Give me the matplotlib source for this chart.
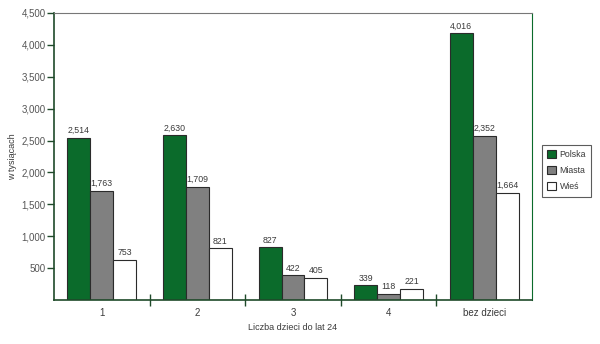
import numpy as np
import matplotlib
matplotlib.use("Agg")
import matplotlib.pyplot as plt

plt.rcParams['font.family'] = ['Liberation Sans', 'DejaVu Sans']

categories = ['1', '2', '3', '4', 'bez dzieci']
series = ['Polska', 'Miasta', 'Wieś']
# bar heights as drawn in the picture
polska = [2547, 2583, 828, 234, 4180]
miasta = [1714, 1776, 390, 94, 2578]
wies = [635, 812, 349, 172, 1682]
# labels printed above bars
polska_lbl = ['2,514', '2,630', '827', '339', '4,016']
miasta_lbl = ['1,763', '1,709', '422', '118', '2,352']
wies_lbl = ['753', '821', '405', '221', '1,664']
yticks = [500, 1000, 1500, 2000, 2500, 3000, 3500, 4000, 4500]

green = '#0b6b2b'
dark = '#1f4a2a'
txt = '#3a3a3a'

fig = plt.figure(figsize=(6, 3.44), dpi=100)
ax = fig.add_axes([54/600, 1-300/344, (532-54)/600, (300-13)/344])

x = np.arange(len(categories))
w = 0.24
colors = [green, '#808080', 'white']
vals = [polska, miasta, wies]
lbls = [polska_lbl, miasta_lbl, wies_lbl]
for i in range(3):
    bars = ax.bar(x + (i - 1) * w, vals[i], w, color=colors[i], edgecolor='#2b2b2b',
                  linewidth=0.8, label=series[i])
    for b, t in zip(bars, lbls[i]):
        ax.text(b.get_x() + b.get_width() / 2, b.get_height() + 40, t,
                ha='center', va='bottom', fontsize=6.3, color=txt)

ax.set_xlim(-0.5, 4.5)
ax.set_ylim(0, 4500)
ax.set_yticks(yticks)
ax.set_yticklabels([f'{v:,}' for v in yticks], fontsize=7, color='#555555')
ax.set_xticks(x)
ax.set_xticklabels(categories, fontsize=7, color=txt)
ax.tick_params(axis='x', length=0, pad=6)
ax.set_xticks(np.arange(0.5, 4.5, 1), minor=True)
ax.tick_params(axis='x', which='minor', length=8, direction='inout', color=dark, width=1)
ax.tick_params(axis='y', length=5, direction='out', color=dark, width=1, pad=1)

for s in ['left', 'bottom']:
    ax.spines[s].set_color(dark)
    ax.spines[s].set_linewidth(1.2)
ax.spines['top'].set_color('#777777')
ax.spines['right'].set_color(green)
ax.spines['top'].set_linewidth(0.8)
ax.spines['right'].set_linewidth(0.8)

ax.set_ylabel('w tysiącach', fontsize=6.5, color=txt, labelpad=3)
ax.set_xlabel('Liczba dzieci do lat 24', fontsize=6.5, color=txt, labelpad=3)

leg = ax.legend(loc='center left', bbox_to_anchor=(1.012, 0.45), fontsize=6.3,
                frameon=True, fancybox=False, handlelength=1.0, handleheight=1.0,
                handletextpad=0.4, borderpad=0.6, labelspacing=0.8)
leg.get_frame().set_edgecolor('#333333')
leg.get_frame().set_linewidth(0.8)
for t in leg.get_texts():
    t.set_color(txt)

fig.savefig('out.png', dpi=100)
